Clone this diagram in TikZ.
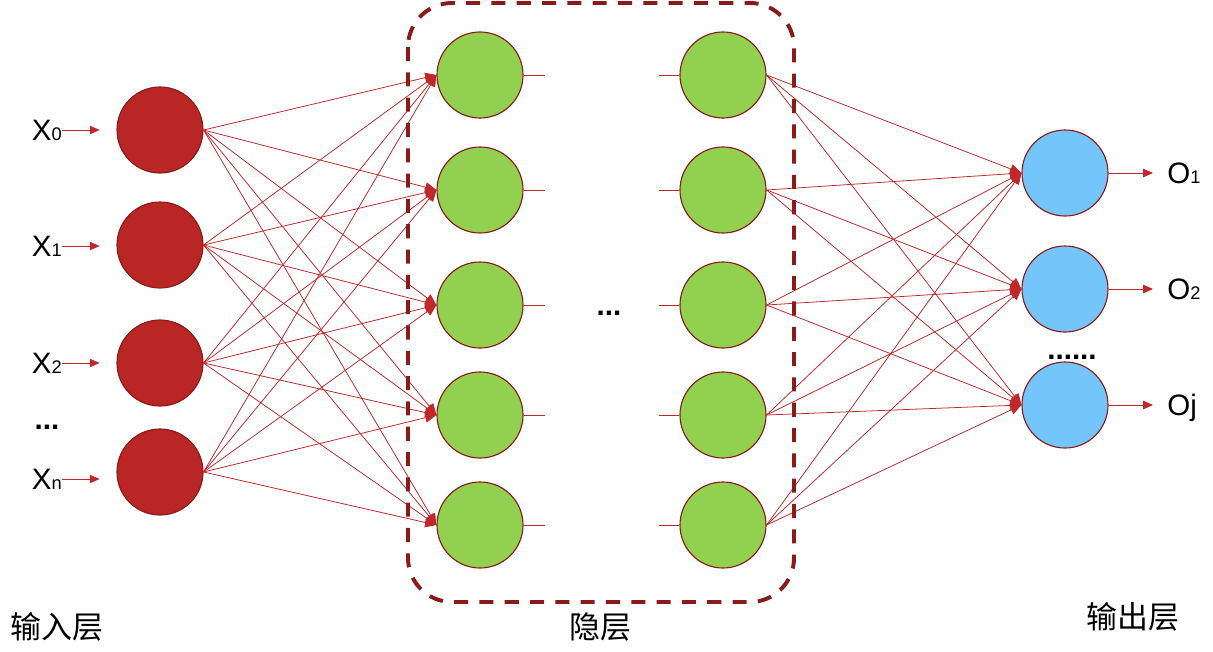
\documentclass[tikz,border=0pt]{standalone}
\usepackage{fontspec}
\setmainfont{Liberation Sans}
\newfontfamily\cjkfont{Noto Sans CJK SC}
\usepackage{tikz}
\usetikzlibrary{arrows.meta,positioning,calc}

\definecolor{inred}{RGB}{185,38,37}
\definecolor{darkred}{RGB}{139,26,26}
\definecolor{linkred}{RGB}{192,40,42}
\definecolor{hidgreen}{RGB}{146,208,80}
\definecolor{outblue}{RGB}{117,197,253}

\newcommand{\idx}[1]{{\fontsize{13}{14}\selectfont #1}}

\tikzset{
    neuron/.style={circle, draw=darkred, line width=0.8pt, minimum size=2.15cm, inner sep=0pt},
    inneuron/.style={neuron, fill=inred},
    hidneuron/.style={neuron, fill=hidgreen},
    outneuron/.style={neuron, fill=outblue},
    link/.style={draw=linkred, line width=0.55pt, -{Triangle[length=8pt,width=7pt]}},
    inarrow/.style={draw=linkred, line width=0.6pt, -{Triangle[length=7pt,width=6pt]}},
    stub/.style={draw=linkred, line width=0.6pt},
    hidbox/.style={draw=darkred, line width=2.8pt, dash pattern=on 10pt off 8pt, rounded corners=1.1cm},
    lbl/.style={inner sep=0pt, font=\fontsize{21}{24}\selectfont, text height=15pt, text depth=0pt},
    dots/.style={inner sep=0pt, font=\fontsize{21}{24}\selectfont\bfseries},
    cjklbl/.style={inner sep=0pt, font=\fontsize{22}{26}\selectfont\cjkfont}
}

\begin{document}
\begin{tikzpicture}[x=0.025cm, y=-0.025cm]
    \useasboundingbox (0,0) rectangle (1213,652);

    \node[inneuron] (i0) at (160,130) {};
    \node[inneuron] (i1) at (160,245) {};
    \node[inneuron] (i2) at (160,363) {};
    \node[inneuron] (i3) at (160,472) {};

    \foreach \j/\y in {1/75, 2/190, 3/305, 4/415, 5/525} {
        \node[hidneuron] (h\j) at (480,\y) {};
        \node[hidneuron] (g\j) at (723,\y) {};
        \draw[stub] (h\j.east) -- ([xshift=0.53cm]h\j.east);
        \draw[stub] ([xshift=-0.5cm]g\j.west) -- (g\j.west);
    }

    \node[outneuron] (o1) at (1065,173) {};
    \node[outneuron] (o2) at (1065,289) {};
    \node[outneuron] (o3) at (1065,405) {};

    \node[lbl, anchor=east] (x0) at (62,130) {X\idx{0}};
    \node[lbl, anchor=east] (x1) at (62,246) {X\idx{1}};
    \node[lbl, anchor=east] (x2) at (62,363) {X\idx{2}};
    \node[dots] (xdots) at (47,427) {...};
    \node[lbl, anchor=east] (xn) at (62,479) {X\idx{n}};

    \draw[inarrow, shorten >=0.42cm] (x0.east) -- (x0.east -| i0.west);
    \draw[inarrow, shorten >=0.42cm] (x1.east) -- (x1.east -| i1.west);
    \draw[inarrow, shorten >=0.42cm] (x2.east) -- (x2.east -| i2.west);
    \draw[inarrow, shorten >=0.42cm] (xn.east) -- (xn.east -| i3.west);

    \foreach \i in {0,...,3}
        \foreach \j in {1,...,5}
            \draw[link] (i\i.east) -- (h\j.west);

    \foreach \i in {1,...,5}
        \foreach \j in {1,2,3}
            \draw[link] (g\i.east) -- (o\j.west);

    \node[dots] (hdots) at (609,313) {...};
    \node[dots] (odots) at (1072,357) {......};

    \node[lbl, anchor=west] (y1) at (1167,173) {O\idx{1}};
    \node[lbl, anchor=west] (y2) at (1167,289) {O\idx{2}};
    \node[lbl, anchor=west] (y3) at (1167,405) {Oj};

    \draw[inarrow, shorten >=0.35cm] (o1.east) -- (y1.west);
    \draw[inarrow, shorten >=0.35cm] (o2.east) -- (y2.west);
    \draw[inarrow, shorten >=0.35cm] (o3.east) -- (y3.west);

    \draw[hidbox] (408,3) rectangle (794,602);

    \node[cjklbl] (inname) at (57,627) {输入层};
    \node[cjklbl] (hidname) at (600,627) {隐层};
    \node[cjklbl] (outname) at (1133,617) {输出层};
\end{tikzpicture}
\end{document}
